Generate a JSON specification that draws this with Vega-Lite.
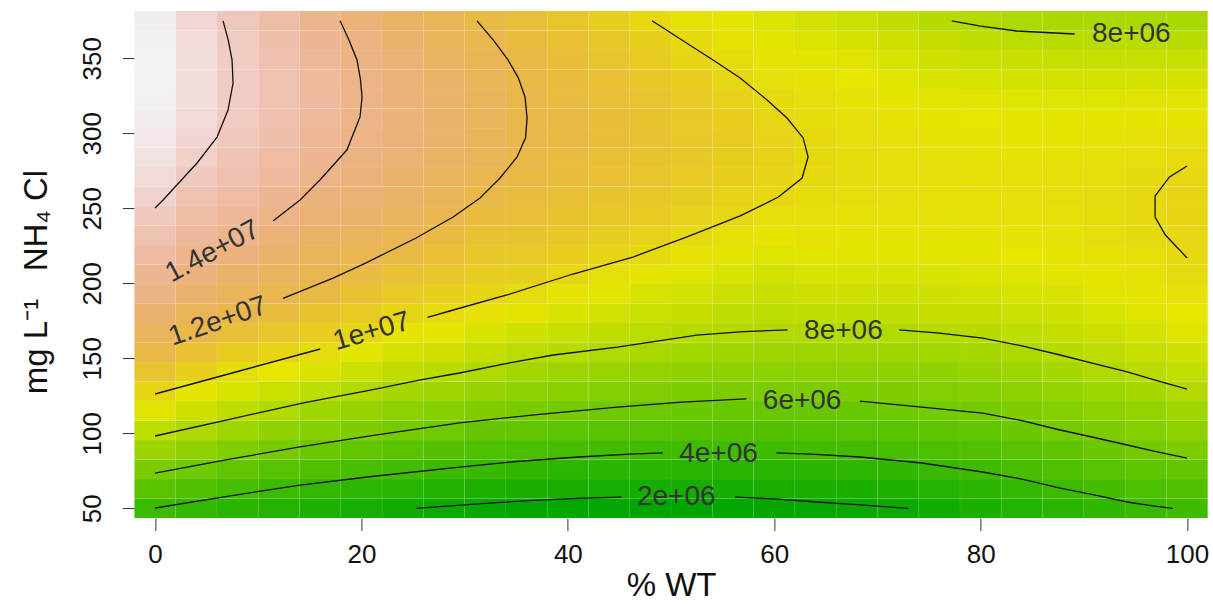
{
"$schema": "https://vega.github.io/schema/vega-lite/v6.json",
"width": 1073.3,
"height": 507,
"autosize": "none",
"padding": {"left": 134.4, "top": 11.05, "right": 5.3, "bottom": 85.95},
"background": "white",
"config": {"view": {"stroke": null}, "font": "Liberation Sans"},
"datasets": {
"heat": [
{"x":0,"y":50,"z":3.98},{"x":0,"y":63,"z":5.10},{"x":0,"y":76,"z":6.20},{"x":0,"y":89,"z":7.26},{"x":0,"y":102,"z":8.27},{"x":0,"y":115,"z":9.20},{"x":0,"y":128,"z":10.12},{"x":0,"y":141,"z":11.01},{"x":0,"y":154,"z":11.90},{"x":0,"y":167,"z":12.58},{"x":0,"y":180,"z":13.23},{"x":0,"y":193,"z":13.88},{"x":0,"y":206,"z":14.38},{"x":0,"y":219,"z":14.86},{"x":0,"y":232,"z":15.33},{"x":0,"y":245,"z":15.81},{"x":0,"y":258,"z":16.22},{"x":0,"y":271,"z":16.55},{"x":0,"y":284,"z":16.82},{"x":0,"y":297,"z":17.04},{"x":0,"y":310,"z":17.21},{"x":0,"y":323,"z":17.32},{"x":0,"y":336,"z":17.39},{"x":0,"y":349,"z":17.40},{"x":0,"y":362,"z":17.36},{"x":0,"y":375,"z":17.26},
{"x":4,"y":50,"z":3.65},{"x":4,"y":63,"z":4.69},{"x":4,"y":76,"z":5.78},{"x":4,"y":89,"z":6.80},{"x":4,"y":102,"z":7.81},{"x":4,"y":115,"z":8.68},{"x":4,"y":128,"z":9.52},{"x":4,"y":141,"z":10.34},{"x":4,"y":154,"z":11.14},{"x":4,"y":167,"z":11.94},{"x":4,"y":180,"z":12.53},{"x":4,"y":193,"z":13.11},{"x":4,"y":206,"z":13.69},{"x":4,"y":219,"z":14.18},{"x":4,"y":232,"z":14.57},{"x":4,"y":245,"z":14.96},{"x":4,"y":258,"z":15.35},{"x":4,"y":271,"z":15.74},{"x":4,"y":284,"z":16.10},{"x":4,"y":297,"z":16.36},{"x":4,"y":310,"z":16.54},{"x":4,"y":323,"z":16.65},{"x":4,"y":336,"z":16.70},{"x":4,"y":349,"z":16.68},{"x":4,"y":362,"z":16.58},{"x":4,"y":375,"z":16.42},
{"x":8,"y":50,"z":3.32},{"x":8,"y":63,"z":4.32},{"x":8,"y":76,"z":5.37},{"x":8,"y":89,"z":6.40},{"x":8,"y":102,"z":7.37},{"x":8,"y":115,"z":8.26},{"x":8,"y":128,"z":9.01},{"x":8,"y":141,"z":9.77},{"x":8,"y":154,"z":10.52},{"x":8,"y":167,"z":11.28},{"x":8,"y":180,"z":12.02},{"x":8,"y":193,"z":12.56},{"x":8,"y":206,"z":13.09},{"x":8,"y":219,"z":13.63},{"x":8,"y":232,"z":14.14},{"x":8,"y":245,"z":14.57},{"x":8,"y":258,"z":14.94},{"x":8,"y":271,"z":15.25},{"x":8,"y":284,"z":15.51},{"x":8,"y":297,"z":15.70},{"x":8,"y":310,"z":15.84},{"x":8,"y":323,"z":15.93},{"x":8,"y":336,"z":15.95},{"x":8,"y":349,"z":15.92},{"x":8,"y":362,"z":15.83},{"x":8,"y":375,"z":15.68},
{"x":12,"y":50,"z":3.00},{"x":12,"y":63,"z":3.98},{"x":12,"y":76,"z":5.01},{"x":12,"y":89,"z":6.04},{"x":12,"y":102,"z":6.96},{"x":12,"y":115,"z":7.89},{"x":12,"y":128,"z":8.68},{"x":12,"y":141,"z":9.44},{"x":12,"y":154,"z":10.18},{"x":12,"y":167,"z":10.86},{"x":12,"y":180,"z":11.53},{"x":12,"y":193,"z":12.14},{"x":12,"y":206,"z":12.61},{"x":12,"y":219,"z":13.08},{"x":12,"y":232,"z":13.55},{"x":12,"y":245,"z":14.02},{"x":12,"y":258,"z":14.38},{"x":12,"y":271,"z":14.69},{"x":12,"y":284,"z":14.94},{"x":12,"y":297,"z":15.12},{"x":12,"y":310,"z":15.25},{"x":12,"y":323,"z":15.31},{"x":12,"y":336,"z":15.31},{"x":12,"y":349,"z":15.26},{"x":12,"y":362,"z":15.14},{"x":12,"y":375,"z":14.95},
{"x":16,"y":50,"z":2.70},{"x":16,"y":63,"z":3.67},{"x":16,"y":76,"z":4.68},{"x":16,"y":89,"z":5.69},{"x":16,"y":102,"z":6.59},{"x":16,"y":115,"z":7.44},{"x":16,"y":128,"z":8.28},{"x":16,"y":141,"z":9.07},{"x":16,"y":154,"z":9.87},{"x":16,"y":167,"z":10.49},{"x":16,"y":180,"z":11.09},{"x":16,"y":193,"z":11.68},{"x":16,"y":206,"z":12.17},{"x":16,"y":219,"z":12.55},{"x":16,"y":232,"z":12.93},{"x":16,"y":245,"z":13.30},{"x":16,"y":258,"z":13.68},{"x":16,"y":271,"z":14.05},{"x":16,"y":284,"z":14.32},{"x":16,"y":297,"z":14.52},{"x":16,"y":310,"z":14.64},{"x":16,"y":323,"z":14.69},{"x":16,"y":336,"z":14.66},{"x":16,"y":349,"z":14.56},{"x":16,"y":362,"z":14.39},{"x":16,"y":375,"z":14.14},
{"x":20,"y":50,"z":2.42},{"x":20,"y":63,"z":3.44},{"x":20,"y":76,"z":4.41},{"x":20,"y":89,"z":5.38},{"x":20,"y":102,"z":6.29},{"x":20,"y":115,"z":7.10},{"x":20,"y":128,"z":7.91},{"x":20,"y":141,"z":8.65},{"x":20,"y":154,"z":9.38},{"x":20,"y":167,"z":10.09},{"x":20,"y":180,"z":10.64},{"x":20,"y":193,"z":11.19},{"x":20,"y":206,"z":11.74},{"x":20,"y":219,"z":12.26},{"x":20,"y":232,"z":12.69},{"x":20,"y":245,"z":13.06},{"x":20,"y":258,"z":13.37},{"x":20,"y":271,"z":13.63},{"x":20,"y":284,"z":13.82},{"x":20,"y":297,"z":13.96},{"x":20,"y":310,"z":14.03},{"x":20,"y":323,"z":14.05},{"x":20,"y":336,"z":14.01},{"x":20,"y":349,"z":13.90},{"x":20,"y":362,"z":13.74},{"x":20,"y":375,"z":13.52},
{"x":24,"y":50,"z":2.15},{"x":24,"y":63,"z":3.24},{"x":24,"y":76,"z":4.18},{"x":24,"y":89,"z":5.11},{"x":24,"y":102,"z":6.04},{"x":24,"y":115,"z":6.82},{"x":24,"y":128,"z":7.61},{"x":24,"y":141,"z":8.31},{"x":24,"y":154,"z":8.93},{"x":24,"y":167,"z":9.55},{"x":24,"y":180,"z":10.14},{"x":24,"y":193,"z":10.67},{"x":24,"y":206,"z":11.20},{"x":24,"y":219,"z":11.73},{"x":24,"y":232,"z":12.21},{"x":24,"y":245,"z":12.59},{"x":24,"y":258,"z":12.91},{"x":24,"y":271,"z":13.16},{"x":24,"y":284,"z":13.35},{"x":24,"y":297,"z":13.47},{"x":24,"y":310,"z":13.53},{"x":24,"y":323,"z":13.53},{"x":24,"y":336,"z":13.47},{"x":24,"y":349,"z":13.34},{"x":24,"y":362,"z":13.14},{"x":24,"y":375,"z":12.89},
{"x":28,"y":50,"z":1.90},{"x":28,"y":63,"z":2.93},{"x":28,"y":76,"z":3.96},{"x":28,"y":89,"z":4.87},{"x":28,"y":102,"z":5.76},{"x":28,"y":115,"z":6.58},{"x":28,"y":128,"z":7.36},{"x":28,"y":141,"z":8.11},{"x":28,"y":154,"z":8.72},{"x":28,"y":167,"z":9.33},{"x":28,"y":180,"z":9.94},{"x":28,"y":193,"z":10.39},{"x":28,"y":206,"z":10.83},{"x":28,"y":219,"z":11.26},{"x":28,"y":232,"z":11.70},{"x":28,"y":245,"z":12.11},{"x":28,"y":258,"z":12.43},{"x":28,"y":271,"z":12.68},{"x":28,"y":284,"z":12.86},{"x":28,"y":297,"z":12.98},{"x":28,"y":310,"z":13.03},{"x":28,"y":323,"z":13.01},{"x":28,"y":336,"z":12.92},{"x":28,"y":349,"z":12.77},{"x":28,"y":362,"z":12.55},{"x":28,"y":375,"z":12.27},
{"x":32,"y":50,"z":1.74},{"x":32,"y":63,"z":2.75},{"x":32,"y":76,"z":3.77},{"x":32,"y":89,"z":4.67},{"x":32,"y":102,"z":5.54},{"x":32,"y":115,"z":6.35},{"x":32,"y":128,"z":7.10},{"x":32,"y":141,"z":7.86},{"x":32,"y":154,"z":8.47},{"x":32,"y":167,"z":9.06},{"x":32,"y":180,"z":9.64},{"x":32,"y":193,"z":10.14},{"x":32,"y":206,"z":10.50},{"x":32,"y":219,"z":10.86},{"x":32,"y":232,"z":11.21},{"x":32,"y":245,"z":11.57},{"x":32,"y":258,"z":11.93},{"x":32,"y":271,"z":12.21},{"x":32,"y":284,"z":12.38},{"x":32,"y":297,"z":12.48},{"x":32,"y":310,"z":12.52},{"x":32,"y":323,"z":12.50},{"x":32,"y":336,"z":12.42},{"x":32,"y":349,"z":12.27},{"x":32,"y":362,"z":12.07},{"x":32,"y":375,"z":11.80},
{"x":36,"y":50,"z":1.62},{"x":36,"y":63,"z":2.60},{"x":36,"y":76,"z":3.58},{"x":36,"y":89,"z":4.50},{"x":36,"y":102,"z":5.36},{"x":36,"y":115,"z":6.18},{"x":36,"y":128,"z":6.87},{"x":36,"y":141,"z":7.55},{"x":36,"y":154,"z":8.20},{"x":36,"y":167,"z":8.76},{"x":36,"y":180,"z":9.33},{"x":36,"y":193,"z":9.89},{"x":36,"y":206,"z":10.35},{"x":36,"y":219,"z":10.74},{"x":36,"y":232,"z":11.07},{"x":36,"y":245,"z":11.36},{"x":36,"y":258,"z":11.59},{"x":36,"y":271,"z":11.77},{"x":36,"y":284,"z":11.90},{"x":36,"y":297,"z":11.97},{"x":36,"y":310,"z":12.00},{"x":36,"y":323,"z":11.97},{"x":36,"y":336,"z":11.90},{"x":36,"y":349,"z":11.77},{"x":36,"y":362,"z":11.59},{"x":36,"y":375,"z":11.36},
{"x":40,"y":50,"z":1.54},{"x":40,"y":63,"z":2.49},{"x":40,"y":76,"z":3.44},{"x":40,"y":89,"z":4.35},{"x":40,"y":102,"z":5.20},{"x":40,"y":115,"z":6.04},{"x":40,"y":128,"z":6.70},{"x":40,"y":141,"z":7.36},{"x":40,"y":154,"z":8.02},{"x":40,"y":167,"z":8.52},{"x":40,"y":180,"z":9.03},{"x":40,"y":193,"z":9.53},{"x":40,"y":206,"z":10.03},{"x":40,"y":219,"z":10.44},{"x":40,"y":232,"z":10.79},{"x":40,"y":245,"z":11.09},{"x":40,"y":258,"z":11.32},{"x":40,"y":271,"z":11.50},{"x":40,"y":284,"z":11.63},{"x":40,"y":297,"z":11.70},{"x":40,"y":310,"z":11.71},{"x":40,"y":323,"z":11.66},{"x":40,"y":336,"z":11.56},{"x":40,"y":349,"z":11.40},{"x":40,"y":362,"z":11.18},{"x":40,"y":375,"z":10.91},
{"x":44,"y":50,"z":1.49},{"x":44,"y":63,"z":2.41},{"x":44,"y":76,"z":3.33},{"x":44,"y":89,"z":4.23},{"x":44,"y":102,"z":5.05},{"x":44,"y":115,"z":5.87},{"x":44,"y":128,"z":6.55},{"x":44,"y":141,"z":7.20},{"x":44,"y":154,"z":7.85},{"x":44,"y":167,"z":8.36},{"x":44,"y":180,"z":8.82},{"x":44,"y":193,"z":9.29},{"x":44,"y":206,"z":9.75},{"x":44,"y":219,"z":10.18},{"x":44,"y":232,"z":10.54},{"x":44,"y":245,"z":10.83},{"x":44,"y":258,"z":11.07},{"x":44,"y":271,"z":11.24},{"x":44,"y":284,"z":11.35},{"x":44,"y":297,"z":11.41},{"x":44,"y":310,"z":11.40},{"x":44,"y":323,"z":11.33},{"x":44,"y":336,"z":11.20},{"x":44,"y":349,"z":11.02},{"x":44,"y":362,"z":10.77},{"x":44,"y":375,"z":10.46},
{"x":48,"y":50,"z":1.46},{"x":48,"y":63,"z":2.37},{"x":48,"y":76,"z":3.27},{"x":48,"y":89,"z":4.15},{"x":48,"y":102,"z":4.94},{"x":48,"y":115,"z":5.74},{"x":48,"y":128,"z":6.42},{"x":48,"y":141,"z":7.03},{"x":48,"y":154,"z":7.65},{"x":48,"y":167,"z":8.18},{"x":48,"y":180,"z":8.62},{"x":48,"y":193,"z":9.05},{"x":48,"y":206,"z":9.48},{"x":48,"y":219,"z":9.92},{"x":48,"y":232,"z":10.29},{"x":48,"y":245,"z":10.58},{"x":48,"y":258,"z":10.81},{"x":48,"y":271,"z":10.98},{"x":48,"y":284,"z":11.08},{"x":48,"y":297,"z":11.12},{"x":48,"y":310,"z":11.09},{"x":48,"y":323,"z":11.00},{"x":48,"y":336,"z":10.84},{"x":48,"y":349,"z":10.62},{"x":48,"y":362,"z":10.34},{"x":48,"y":375,"z":9.99},
{"x":52,"y":50,"z":1.45},{"x":52,"y":63,"z":2.35},{"x":52,"y":76,"z":3.24},{"x":52,"y":89,"z":4.11},{"x":52,"y":102,"z":4.88},{"x":52,"y":115,"z":5.64},{"x":52,"y":128,"z":6.32},{"x":52,"y":141,"z":6.91},{"x":52,"y":154,"z":7.50},{"x":52,"y":167,"z":8.06},{"x":52,"y":180,"z":8.45},{"x":52,"y":193,"z":8.84},{"x":52,"y":206,"z":9.22},{"x":52,"y":219,"z":9.61},{"x":52,"y":232,"z":10.00},{"x":52,"y":245,"z":10.31},{"x":52,"y":258,"z":10.54},{"x":52,"y":271,"z":10.71},{"x":52,"y":284,"z":10.80},{"x":52,"y":297,"z":10.83},{"x":52,"y":310,"z":10.78},{"x":52,"y":323,"z":10.67},{"x":52,"y":336,"z":10.48},{"x":52,"y":349,"z":10.15},{"x":52,"y":362,"z":9.92},{"x":52,"y":375,"z":9.65},
{"x":56,"y":50,"z":1.48},{"x":56,"y":63,"z":2.37},{"x":56,"y":76,"z":3.24},{"x":56,"y":89,"z":4.10},{"x":56,"y":102,"z":4.84},{"x":56,"y":115,"z":5.57},{"x":56,"y":128,"z":6.24},{"x":56,"y":141,"z":6.82},{"x":56,"y":154,"z":7.40},{"x":56,"y":167,"z":7.98},{"x":56,"y":180,"z":8.33},{"x":56,"y":193,"z":8.68},{"x":56,"y":206,"z":9.02},{"x":56,"y":219,"z":9.36},{"x":56,"y":232,"z":9.71},{"x":56,"y":245,"z":10.04},{"x":56,"y":258,"z":10.28},{"x":56,"y":271,"z":10.44},{"x":56,"y":284,"z":10.52},{"x":56,"y":297,"z":10.52},{"x":56,"y":310,"z":10.45},{"x":56,"y":323,"z":10.31},{"x":56,"y":336,"z":10.08},{"x":56,"y":349,"z":9.82},{"x":56,"y":362,"z":9.60},{"x":56,"y":375,"z":9.38},
{"x":60,"y":50,"z":1.59},{"x":60,"y":63,"z":2.45},{"x":60,"y":76,"z":3.29},{"x":60,"y":89,"z":4.12},{"x":60,"y":102,"z":4.84},{"x":60,"y":115,"z":5.56},{"x":60,"y":128,"z":6.22},{"x":60,"y":141,"z":6.79},{"x":60,"y":154,"z":7.36},{"x":60,"y":167,"z":7.93},{"x":60,"y":180,"z":8.26},{"x":60,"y":193,"z":8.56},{"x":60,"y":206,"z":8.85},{"x":60,"y":219,"z":9.15},{"x":60,"y":232,"z":9.45},{"x":60,"y":245,"z":9.75},{"x":60,"y":258,"z":10.03},{"x":60,"y":271,"z":10.18},{"x":60,"y":284,"z":10.24},{"x":60,"y":297,"z":10.22},{"x":60,"y":310,"z":10.11},{"x":60,"y":323,"z":9.92},{"x":60,"y":336,"z":9.72},{"x":60,"y":349,"z":9.52},{"x":60,"y":362,"z":9.32},{"x":60,"y":375,"z":9.12},
{"x":64,"y":50,"z":1.73},{"x":64,"y":63,"z":2.56},{"x":64,"y":76,"z":3.38},{"x":64,"y":89,"z":4.18},{"x":64,"y":102,"z":4.89},{"x":64,"y":115,"z":5.60},{"x":64,"y":128,"z":6.24},{"x":64,"y":141,"z":6.80},{"x":64,"y":154,"z":7.35},{"x":64,"y":167,"z":7.90},{"x":64,"y":180,"z":8.35},{"x":64,"y":193,"z":8.72},{"x":64,"y":206,"z":9.05},{"x":64,"y":219,"z":9.32},{"x":64,"y":232,"z":9.55},{"x":64,"y":245,"z":9.72},{"x":64,"y":258,"z":9.85},{"x":64,"y":271,"z":9.92},{"x":64,"y":284,"z":9.95},{"x":64,"y":297,"z":9.92},{"x":64,"y":310,"z":9.85},{"x":64,"y":323,"z":9.72},{"x":64,"y":336,"z":9.55},{"x":64,"y":349,"z":9.35},{"x":64,"y":362,"z":9.10},{"x":64,"y":375,"z":8.85},
{"x":68,"y":50,"z":1.84},{"x":68,"y":63,"z":2.66},{"x":68,"y":76,"z":3.48},{"x":68,"y":89,"z":4.25},{"x":68,"y":102,"z":4.95},{"x":68,"y":115,"z":5.65},{"x":68,"y":128,"z":6.27},{"x":68,"y":141,"z":6.81},{"x":68,"y":154,"z":7.35},{"x":68,"y":167,"z":7.90},{"x":68,"y":180,"z":8.34},{"x":68,"y":193,"z":8.70},{"x":68,"y":206,"z":9.02},{"x":68,"y":219,"z":9.29},{"x":68,"y":232,"z":9.50},{"x":68,"y":245,"z":9.66},{"x":68,"y":258,"z":9.78},{"x":68,"y":271,"z":9.84},{"x":68,"y":284,"z":9.85},{"x":68,"y":297,"z":9.81},{"x":68,"y":310,"z":9.73},{"x":68,"y":323,"z":9.60},{"x":68,"y":336,"z":9.43},{"x":68,"y":349,"z":9.21},{"x":68,"y":362,"z":8.94},{"x":68,"y":375,"z":8.63},
{"x":72,"y":50,"z":1.97},{"x":72,"y":63,"z":2.80},{"x":72,"y":76,"z":3.63},{"x":72,"y":89,"z":4.39},{"x":72,"y":102,"z":5.09},{"x":72,"y":115,"z":5.79},{"x":72,"y":128,"z":6.36},{"x":72,"y":141,"z":6.88},{"x":72,"y":154,"z":7.40},{"x":72,"y":167,"z":7.92},{"x":72,"y":180,"z":8.35},{"x":72,"y":193,"z":8.72},{"x":72,"y":206,"z":9.03},{"x":72,"y":219,"z":9.28},{"x":72,"y":232,"z":9.49},{"x":72,"y":245,"z":9.64},{"x":72,"y":258,"z":9.73},{"x":72,"y":271,"z":9.78},{"x":72,"y":284,"z":9.77},{"x":72,"y":297,"z":9.71},{"x":72,"y":310,"z":9.61},{"x":72,"y":323,"z":9.45},{"x":72,"y":336,"z":9.25},{"x":72,"y":349,"z":9.00},{"x":72,"y":362,"z":8.71},{"x":72,"y":375,"z":8.36},
{"x":76,"y":50,"z":2.20},{"x":76,"y":63,"z":3.04},{"x":76,"y":76,"z":3.85},{"x":76,"y":89,"z":4.56},{"x":76,"y":102,"z":5.24},{"x":76,"y":115,"z":5.92},{"x":76,"y":128,"z":6.46},{"x":76,"y":141,"z":6.98},{"x":76,"y":154,"z":7.50},{"x":76,"y":167,"z":8.02},{"x":76,"y":180,"z":8.42},{"x":76,"y":193,"z":8.77},{"x":76,"y":206,"z":9.06},{"x":76,"y":219,"z":9.30},{"x":76,"y":232,"z":9.49},{"x":76,"y":245,"z":9.62},{"x":76,"y":258,"z":9.70},{"x":76,"y":271,"z":9.72},{"x":76,"y":284,"z":9.69},{"x":76,"y":297,"z":9.61},{"x":76,"y":310,"z":9.48},{"x":76,"y":323,"z":9.29},{"x":76,"y":336,"z":9.06},{"x":76,"y":349,"z":8.77},{"x":76,"y":362,"z":8.44},{"x":76,"y":375,"z":8.05},
{"x":80,"y":50,"z":2.65},{"x":80,"y":63,"z":3.37},{"x":80,"y":76,"z":4.08},{"x":80,"y":89,"z":4.74},{"x":80,"y":102,"z":5.41},{"x":80,"y":115,"z":6.06},{"x":80,"y":128,"z":6.57},{"x":80,"y":141,"z":7.09},{"x":80,"y":154,"z":7.61},{"x":80,"y":167,"z":8.10},{"x":80,"y":180,"z":8.48},{"x":80,"y":193,"z":8.82},{"x":80,"y":206,"z":9.10},{"x":80,"y":219,"z":9.32},{"x":80,"y":232,"z":9.50},{"x":80,"y":245,"z":9.62},{"x":80,"y":258,"z":9.68},{"x":80,"y":271,"z":9.70},{"x":80,"y":284,"z":9.66},{"x":80,"y":297,"z":9.57},{"x":80,"y":310,"z":9.42},{"x":80,"y":323,"z":9.22},{"x":80,"y":336,"z":8.97},{"x":80,"y":349,"z":8.67},{"x":80,"y":362,"z":8.31},{"x":80,"y":375,"z":7.90},
{"x":84,"y":50,"z":2.95},{"x":84,"y":63,"z":3.67},{"x":84,"y":76,"z":4.36},{"x":84,"y":89,"z":5.03},{"x":84,"y":102,"z":5.69},{"x":84,"y":115,"z":6.28},{"x":84,"y":128,"z":6.80},{"x":84,"y":141,"z":7.32},{"x":84,"y":154,"z":7.84},{"x":84,"y":167,"z":8.28},{"x":84,"y":180,"z":8.65},{"x":84,"y":193,"z":8.96},{"x":84,"y":206,"z":9.21},{"x":84,"y":219,"z":9.42},{"x":84,"y":232,"z":9.57},{"x":84,"y":245,"z":9.67},{"x":84,"y":258,"z":9.72},{"x":84,"y":271,"z":9.71},{"x":84,"y":284,"z":9.65},{"x":84,"y":297,"z":9.54},{"x":84,"y":310,"z":9.38},{"x":84,"y":323,"z":9.16},{"x":84,"y":336,"z":8.89},{"x":84,"y":349,"z":8.57},{"x":84,"y":362,"z":8.19},{"x":84,"y":375,"z":7.76},
{"x":88,"y":50,"z":3.25},{"x":88,"y":63,"z":4.00},{"x":88,"y":76,"z":4.67},{"x":88,"y":89,"z":5.34},{"x":88,"y":102,"z":6.01},{"x":88,"y":115,"z":6.53},{"x":88,"y":128,"z":7.05},{"x":88,"y":141,"z":7.57},{"x":88,"y":154,"z":8.07},{"x":88,"y":167,"z":8.47},{"x":88,"y":180,"z":8.81},{"x":88,"y":193,"z":9.09},{"x":88,"y":206,"z":9.33},{"x":88,"y":219,"z":9.52},{"x":88,"y":232,"z":9.65},{"x":88,"y":245,"z":9.73},{"x":88,"y":258,"z":9.76},{"x":88,"y":271,"z":9.74},{"x":88,"y":284,"z":9.66},{"x":88,"y":297,"z":9.54},{"x":88,"y":310,"z":9.36},{"x":88,"y":323,"z":9.13},{"x":88,"y":336,"z":8.85},{"x":88,"y":349,"z":8.52},{"x":88,"y":362,"z":8.14},{"x":88,"y":375,"z":7.70},
{"x":92,"y":50,"z":3.55},{"x":92,"y":63,"z":4.29},{"x":92,"y":76,"z":4.97},{"x":92,"y":89,"z":5.66},{"x":92,"y":102,"z":6.26},{"x":92,"y":115,"z":6.79},{"x":92,"y":128,"z":7.32},{"x":92,"y":141,"z":7.85},{"x":92,"y":154,"z":8.31},{"x":92,"y":167,"z":8.68},{"x":92,"y":180,"z":9.00},{"x":92,"y":193,"z":9.27},{"x":92,"y":206,"z":9.49},{"x":92,"y":219,"z":9.65},{"x":92,"y":232,"z":9.77},{"x":92,"y":245,"z":9.83},{"x":92,"y":258,"z":9.85},{"x":92,"y":271,"z":9.81},{"x":92,"y":284,"z":9.72},{"x":92,"y":297,"z":9.58},{"x":92,"y":310,"z":9.39},{"x":92,"y":323,"z":9.15},{"x":92,"y":336,"z":8.86},{"x":92,"y":349,"z":8.51},{"x":92,"y":362,"z":8.12},{"x":92,"y":375,"z":7.67},
{"x":96,"y":50,"z":3.85},{"x":96,"y":63,"z":4.59},{"x":96,"y":76,"z":5.28},{"x":96,"y":89,"z":5.97},{"x":96,"y":102,"z":6.52},{"x":96,"y":115,"z":7.06},{"x":96,"y":128,"z":7.60},{"x":96,"y":141,"z":8.12},{"x":96,"y":154,"z":8.53},{"x":96,"y":167,"z":8.89},{"x":96,"y":180,"z":9.20},{"x":96,"y":193,"z":9.45},{"x":96,"y":206,"z":9.66},{"x":96,"y":219,"z":9.81},{"x":96,"y":232,"z":9.91},{"x":96,"y":245,"z":9.96},{"x":96,"y":258,"z":9.96},{"x":96,"y":271,"z":9.91},{"x":96,"y":284,"z":9.81},{"x":96,"y":297,"z":9.66},{"x":96,"y":310,"z":9.45},{"x":96,"y":323,"z":9.20},{"x":96,"y":336,"z":8.89},{"x":96,"y":349,"z":8.53},{"x":96,"y":362,"z":8.12},{"x":96,"y":375,"z":7.66},
{"x":100,"y":50,"z":4.11},{"x":100,"y":63,"z":4.73},{"x":100,"y":76,"z":5.46},{"x":100,"y":89,"z":6.24},{"x":100,"y":102,"z":6.80},{"x":100,"y":115,"z":7.37},{"x":100,"y":128,"z":7.93},{"x":100,"y":141,"z":8.39},{"x":100,"y":154,"z":8.79},{"x":100,"y":167,"z":9.14},{"x":100,"y":180,"z":9.44},{"x":100,"y":193,"z":9.68},{"x":100,"y":206,"z":9.88},{"x":100,"y":219,"z":10.02},{"x":100,"y":232,"z":10.10},{"x":100,"y":245,"z":10.14},{"x":100,"y":258,"z":10.12},{"x":100,"y":271,"z":10.06},{"x":100,"y":284,"z":9.94},{"x":100,"y":297,"z":9.76},{"x":100,"y":310,"z":9.54},{"x":100,"y":323,"z":9.26},{"x":100,"y":336,"z":8.93},{"x":100,"y":349,"z":8.55},{"x":100,"y":362,"z":8.12},{"x":100,"y":375,"z":7.64}
],
"lines": [
{"id":"c2a","o":1,"x":25.3,"y":50},{"id":"c2a","o":2,"x":28,"y":51.3},{"id":"c2a","o":3,"x":32,"y":53.3},{"id":"c2a","o":4,"x":37.1,"y":55.5},{"id":"c2a","o":5,"x":41,"y":56.6},{"id":"c2a","o":6,"x":45.2,"y":57.5},
{"id":"c2b","o":1,"x":56.2,"y":57.5},{"id":"c2b","o":2,"x":60,"y":56.3},{"id":"c2b","o":3,"x":64.1,"y":54.2},{"id":"c2b","o":4,"x":68,"y":52.4},{"id":"c2b","o":5,"x":73,"y":50},
{"id":"c4a","o":1,"x":0,"y":50.2},{"id":"c4a","o":2,"x":7,"y":58},{"id":"c4a","o":3,"x":14.05,"y":65.5},{"id":"c4a","o":4,"x":21,"y":71.2},{"id":"c4a","o":5,"x":29.5,"y":77.5},{"id":"c4a","o":6,"x":35,"y":81.2},{"id":"c4a","o":7,"x":41,"y":84.2},{"id":"c4a","o":8,"x":46,"y":86.1},{"id":"c4a","o":9,"x":49.2,"y":86.9},
{"id":"c4b","o":1,"x":60.2,"y":86.9},{"id":"c4b","o":2,"x":64,"y":85.9},{"id":"c4b","o":3,"x":68.3,"y":84.2},{"id":"c4b","o":4,"x":74.3,"y":80.2},{"id":"c4b","o":5,"x":80.2,"y":74.2},{"id":"c4b","o":6,"x":84,"y":69.5},{"id":"c4b","o":7,"x":87.7,"y":63.5},{"id":"c4b","o":8,"x":91,"y":59},{"id":"c4b","o":9,"x":94.2,"y":54.2},{"id":"c4b","o":10,"x":96.5,"y":51.8},{"id":"c4b","o":11,"x":98.6,"y":50},
{"id":"c6a","o":1,"x":0,"y":73.5},{"id":"c6a","o":2,"x":7,"y":82.5},{"id":"c6a","o":3,"x":14.05,"y":90.9},{"id":"c6a","o":4,"x":21,"y":98.5},{"id":"c6a","o":5,"x":29.5,"y":106.9},{"id":"c6a","o":6,"x":37,"y":112.5},{"id":"c6a","o":7,"x":44.8,"y":117.5},{"id":"c6a","o":8,"x":51,"y":120.8},{"id":"c6a","o":9,"x":57.3,"y":122.9},
{"id":"c6b","o":1,"x":68.3,"y":121.5},{"id":"c6b","o":2,"x":74.3,"y":117.5},{"id":"c6b","o":3,"x":80.2,"y":113.5},{"id":"c6b","o":4,"x":84,"y":108.5},{"id":"c6b","o":5,"x":87.7,"y":102.2},{"id":"c6b","o":6,"x":91,"y":97.2},{"id":"c6b","o":7,"x":94.2,"y":92.2},{"id":"c6b","o":8,"x":97,"y":87.8},{"id":"c6b","o":9,"x":100,"y":83.5},
{"id":"c8a","o":1,"x":0,"y":98.2},{"id":"c8a","o":2,"x":7,"y":109},{"id":"c8a","o":3,"x":14.5,"y":120.5},{"id":"c8a","o":4,"x":21,"y":129},{"id":"c8a","o":5,"x":25.6,"y":135.5},{"id":"c8a","o":6,"x":29.5,"y":140.2},{"id":"c8a","o":7,"x":34,"y":146.5},{"id":"c8a","o":8,"x":38.6,"y":152.2},{"id":"c8a","o":9,"x":44.8,"y":157.5},{"id":"c8a","o":10,"x":52.5,"y":165.5},{"id":"c8a","o":11,"x":57,"y":167.8},{"id":"c8a","o":12,"x":61.3,"y":168.9},
{"id":"c8b","o":1,"x":72.1,"y":168.9},{"id":"c8b","o":2,"x":76,"y":166.8},{"id":"c8b","o":3,"x":80.2,"y":163.5},{"id":"c8b","o":4,"x":84,"y":158.3},{"id":"c8b","o":5,"x":87.7,"y":152.2},{"id":"c8b","o":6,"x":91,"y":146.5},{"id":"c8b","o":7,"x":94.2,"y":140.9},{"id":"c8b","o":8,"x":97,"y":135.3},{"id":"c8b","o":9,"x":100,"y":129.5},
{"id":"c8c","o":1,"x":77.2,"y":375},{"id":"c8c","o":2,"x":80,"y":371.5},{"id":"c8c","o":3,"x":83.5,"y":368.2},{"id":"c8c","o":4,"x":89.1,"y":366.2},
{"id":"c10a","o":1,"x":0,"y":126.2},{"id":"c10a","o":2,"x":8,"y":141.2},{"id":"c10a","o":3,"x":16,"y":156.2},
{"id":"c10b","o":1,"x":26.4,"y":177.3},{"id":"c10b","o":2,"x":28.9,"y":182.2},{"id":"c10b","o":3,"x":34.1,"y":192.2},{"id":"c10b","o":4,"x":40.5,"y":206.2},{"id":"c10b","o":5,"x":46.3,"y":217.5},{"id":"c10b","o":6,"x":51.55,"y":230.9},{"id":"c10b","o":7,"x":56.7,"y":244.9},{"id":"c10b","o":8,"x":60.4,"y":257.5},{"id":"c10b","o":9,"x":62.7,"y":270.2},{"id":"c10b","o":10,"x":63.28,"y":284.2},{"id":"c10b","o":11,"x":62.8,"y":296.9},{"id":"c10b","o":12,"x":61.24,"y":310.2},{"id":"c10b","o":13,"x":59.3,"y":322.2},{"id":"c10b","o":14,"x":56.7,"y":336.9},{"id":"c10b","o":15,"x":54.07,"y":348.9},{"id":"c10b","o":16,"x":52.1,"y":357.5},{"id":"c10b","o":17,"x":48.16,"y":375},
{"id":"c10c","o":1,"x":100,"y":278.2},{"id":"c10c","o":2,"x":98.3,"y":270.9},{"id":"c10c","o":3,"x":96.9,"y":258.2},{"id":"c10c","o":4,"x":96.9,"y":244.2},{"id":"c10c","o":5,"x":97.9,"y":232.2},{"id":"c10c","o":6,"x":100,"y":216.9},
{"id":"c12","o":1,"x":12.4,"y":190},{"id":"c12","o":2,"x":17.25,"y":203.5},{"id":"c12","o":3,"x":20.4,"y":213.5},{"id":"c12","o":4,"x":25.3,"y":230.2},{"id":"c12","o":5,"x":28.88,"y":244.2},{"id":"c12","o":6,"x":31.49,"y":256.9},{"id":"c12","o":7,"x":33.43,"y":270.2},{"id":"c12","o":8,"x":35.08,"y":284.2},{"id":"c12","o":9,"x":35.9,"y":297},{"id":"c12","o":10,"x":36.05,"y":310.2},{"id":"c12","o":11,"x":35.85,"y":324.2},{"id":"c12","o":12,"x":35.2,"y":337},{"id":"c12","o":13,"x":34.2,"y":348.9},{"id":"c12","o":14,"x":32.8,"y":362},{"id":"c12","o":15,"x":31.2,"y":375},
{"id":"c14","o":1,"x":11.43,"y":241.5},{"id":"c14","o":2,"x":14.05,"y":255.5},{"id":"c14","o":3,"x":16,"y":269},{"id":"c14","o":4,"x":18.6,"y":289},{"id":"c14","o":5,"x":19.86,"y":310.9},{"id":"c14","o":6,"x":20.06,"y":324.2},{"id":"c14","o":7,"x":19.9,"y":336},{"id":"c14","o":8,"x":19.57,"y":348.9},{"id":"c14","o":9,"x":18.8,"y":362},{"id":"c14","o":10,"x":17.93,"y":375},
{"id":"c16","o":1,"x":0,"y":250.2},{"id":"c16","o":2,"x":0.78,"y":255.5},{"id":"c16","o":3,"x":4.07,"y":280.2},{"id":"c16","o":4,"x":6.01,"y":297.5},{"id":"c16","o":5,"x":7.07,"y":315.5},{"id":"c16","o":6,"x":7.56,"y":333.5},{"id":"c16","o":7,"x":7.46,"y":348.9},{"id":"c16","o":8,"x":7.1,"y":362},{"id":"c16","o":9,"x":6.59,"y":375}
],
"labels": [
{"lab":"2e+06","x":50.5,"y":57.5,"g":"h"},
{"lab":"4e+06","x":54.6,"y":86.2,"g":"h"},
{"lab":"6e+06","x":62.7,"y":121.7,"g":"h"},
{"lab":"8e+06","x":66.7,"y":168.3,"g":"h"},
{"lab":"8e+06","x":94.6,"y":366.1,"g":"h"},
{"lab":"1e+07","x":21.0,"y":167.7,"g":"a"},
{"lab":"1.2e+07","x":6.1,"y":174.4,"g":"b"},
{"lab":"1.4e+07","x":5.6,"y":221.0,"g":"c"}
]
},
"layer": [
{
"data": {"name": "heat"},
"mark": {"type": "rect", "stroke": "#ffffff", "strokeWidth": 0.5, "strokeOpacity": 0.1},
"encoding": {
"x": {"field": "x", "type": "ordinal", "axis": null, "scale": {"paddingInner": 0, "paddingOuter": 0}},
"y": {"field": "y", "type": "ordinal", "sort": "descending", "axis": null, "scale": {"paddingInner": 0, "paddingOuter": 0}},
"color": {"field": "z", "type": "quantitative", "legend": null,
"scale": {"type": "linear", "domain": [1.45, 3.444, 5.4375, 7.431, 9.425, 10.422, 11.419, 12.416, 13.4125, 14.409, 15.406, 16.403, 17.4],
"range": ["#00A600", "#2DB600", "#63C600", "#A0D600", "#E6E600", "#E7CE1D", "#E9BD3A", "#EAB358", "#ECB176", "#EDB694", "#EFC2B3", "#F1D6D3", "#F2F2F2"],
"interpolate": "rgb", "clamp": true}}
}
},
{
"encoding": {
"x": {"field": "x", "type": "quantitative", "scale": {"domain": [-2, 102], "nice": false, "zero": false},
"axis": {"values": [0, 20, 40, 60, 80, 100], "title": "% WT", "grid": false, "domain": false, "tickSize": 12.5, "tickColor": "#333333", "tickWidth": 1,
"labelFont": "Liberation Sans", "labelFontSize": 26, "labelColor": "#111111", "labelBaseline": "alphabetic", "labelPadding": 32, "labelFlush": false, "labelOverlap": false, "labelBound": false,
"titleFont": "Liberation Sans", "titleFontSize": 33, "titleFontWeight": "normal", "titleColor": "#111111", "titleBaseline": "alphabetic", "titleAlign": "center", "titleX": 536.65, "titleY": 77}},
"y": {"field": "y", "type": "quantitative", "scale": {"domain": [43.5, 381.5], "nice": false, "zero": false},
"axis": {"values": [50, 100, 150, 200, 250, 300, 350], "title": "mg L⁻¹\u00a0\u00a0\u00a0NH₄\u00a0Cl", "grid": false, "domain": false, "tickSize": 12, "tickColor": "#333333", "tickWidth": 1,
"labelFont": "Liberation Sans", "labelFontSize": 26, "labelColor": "#111111", "labelAngle": 270, "labelAlign": "center", "labelBaseline": "alphabetic", "labelPadding": 22, "labelOverlap": false, "labelBound": false, "labelFlush": false,
"titleFont": "Liberation Sans", "titleFontSize": 33, "titleFontWeight": "normal", "titleColor": "#111111", "titleAngle": 270, "titleAlign": "center", "titleBaseline": "alphabetic", "titleX": -87.7, "titleY": 270.5}}
},
"layer": [
{
"data": {"name": "lines"},
"mark": {"type": "line", "color": "#111111", "strokeWidth": 1.3, "interpolate": "linear"},
"encoding": {"detail": {"field": "id", "type": "nominal"}, "order": {"field": "o", "type": "quantitative"}}
},
{
"data": {"name": "labels"},
"transform": [{"filter": "datum.g === 'h'"}],
"mark": {"type": "text", "font": "Liberation Sans", "fontSize": 28, "fill": "#333333", "align": "center", "baseline": "middle"},
"encoding": {"text": {"field": "lab", "type": "nominal"}}
},
{
"data": {"name": "labels"},
"transform": [{"filter": "datum.g === 'a'"}],
"mark": {"type": "text", "font": "Liberation Sans", "fontSize": 28, "fill": "#333333", "align": "center", "baseline": "middle", "angle": -16},
"encoding": {"text": {"field": "lab", "type": "nominal"}}
},
{
"data": {"name": "labels"},
"transform": [{"filter": "datum.g === 'b'"}],
"mark": {"type": "text", "font": "Liberation Sans", "fontSize": 28, "fill": "#333333", "align": "center", "baseline": "middle", "angle": -19},
"encoding": {"text": {"field": "lab", "type": "nominal"}}
},
{
"data": {"name": "labels"},
"transform": [{"filter": "datum.g === 'c'"}],
"mark": {"type": "text", "font": "Liberation Sans", "fontSize": 28, "fill": "#333333", "align": "center", "baseline": "middle", "angle": -28},
"encoding": {"text": {"field": "lab", "type": "nominal"}}
},
{
"data": {"values": [{}]},
"mark": {"type": "rect", "fill": null, "fillOpacity": 0, "stroke": "#333333", "strokeWidth": 1.2},
"encoding": {"x": {"datum": -2}, "x2": {"datum": 102}, "y": {"datum": 43.5}, "y2": {"datum": 381.5}}
}
]
}
],
"resolve": {"scale": {"x": "independent", "y": "independent"}}
}
